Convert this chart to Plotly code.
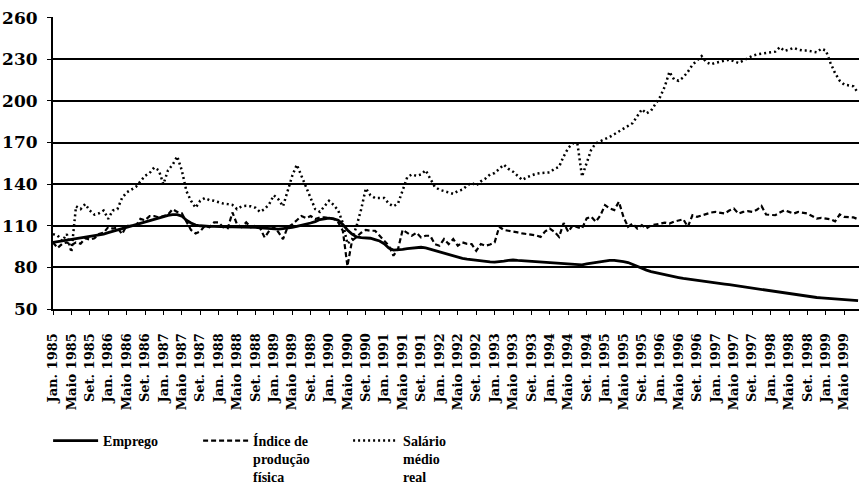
import plotly.graph_objects as go

# Monthly series, Jan. 1985 .. Aug. 1999
emprego = [
    98, 98.5, 99.5, 100, 100.3, 100.6, 101, 101.5, 102, 102.5,
    103, 104, 105, 106, 107, 108, 109, 110, 111, 112,
    113, 114, 115, 116, 117, 117.5, 118, 118, 117, 114,
    112, 110.5, 110, 109.5, 109.5, 109.5, 109.3, 109.3, 109.3, 109.3,
    109.3, 109, 109, 109, 108.8, 108.5, 108.2, 108, 107.6, 107.6,
    108, 108.3, 108.8, 109.5, 110.2, 111, 112, 113, 114.5, 115,
    115.5, 115, 114, 111, 107, 104, 102, 101.5, 101.5, 101,
    100, 99, 97, 94, 92.5, 92.5, 93, 93.5, 94, 94.5,
    94.5, 94, 93, 92, 91, 90, 89, 88, 87, 86.5,
    86, 85.5, 85, 84.5, 84.3, 84, 83.8, 84, 84.5, 85,
    85.3, 85, 84.8, 84.5, 84.2, 84, 84, 83.8, 83.5, 83.5,
    83.3, 83, 82.8, 82.3, 82, 81.8, 82.5, 83, 83.8, 84.4,
    84.8, 85, 85, 84.8, 84.2, 83.5, 82, 80.5, 79, 78,
    77, 76.2, 75.5, 74.7, 74, 73.3, 72.7, 72, 71.5, 71,
    70.5, 70.2, 69.8, 69.3, 69, 68.5, 68, 67.5, 67, 66.5,
    66, 65.5, 65, 64.5, 64, 63.5, 63, 62.5, 62, 61.5,
    61, 60.5, 60, 59.5, 59, 58.7, 58.3, 58, 57.7, 57.3,
    57, 56.8, 56.6, 56.4, 56.2, 56,
]

producao = [
    98, 94, 97, 98, 96, 98, 97, 101, 100, 101,
    104, 105, 109, 108, 108.6, 104, 110, 110, 110, 115,
    114, 117, 117, 116, 117, 118, 122, 120, 119, 112.4,
    107, 104.5, 106, 110, 109, 112.4, 112.4, 109, 108.3, 119.6,
    111, 109, 112.4, 109, 110, 108.5, 101.6, 106.4, 109, 105.4,
    100.4, 109, 111, 114, 117, 115.5, 117, 114.8, 116, 116,
    115.5, 115, 112.4, 106.4, 81, 99.2, 102, 105, 107, 106.4,
    106.4, 102.8, 99.2, 95.6, 88.4, 93.2, 107, 105, 102.8, 105,
    101.6, 102.8, 102.8, 96.8, 95.6, 100.4, 96.8, 100.4, 95.6, 98,
    97, 96.8, 92, 96.8, 95.6, 96.5, 98, 109.3, 107, 106.4,
    106, 105.2, 104.5, 104, 103.6, 103, 102, 106, 108, 105.6,
    102, 112, 105.6, 110.4, 109, 108, 115.3, 116.5, 112.9, 117.6,
    124.9, 122.5, 121.3, 127.3, 116.4, 109.2, 111.6, 108, 110.4, 108,
    110.4, 110.8, 111.5, 112.3, 111.6, 113, 114, 114.7, 109.2, 117.6,
    116.4, 117.6, 118.5, 119.5, 120, 119.5, 118.8, 121, 122.4, 118.8,
    120, 120.5, 120, 121.5, 124.3, 118.1, 118, 117.6, 119.5, 121.2,
    120, 118.8, 120, 119.5, 118.8, 117, 115.2, 115.7, 115, 114.7,
    113.2, 118.1, 116.4, 116.4, 116, 114.7,
]

salario = [
    104, 103, 99, 104, 91, 124, 122, 125.6, 121, 118,
    119, 121, 115, 121, 122, 130, 134, 136, 138, 142,
    146, 148, 152, 150, 140, 150, 154, 160, 150, 135,
    128, 123, 128, 130, 128.5, 128, 127, 126, 125.6, 125,
    122, 124, 124.4, 124, 123, 120, 122, 125.6, 132, 129,
    124, 135, 146, 154, 146, 138, 130, 122, 120, 124,
    128, 125, 121, 112, 97, 100, 110, 122, 137, 132,
    130, 130, 130, 126, 124, 126, 136, 145, 147, 146,
    147, 150, 144, 138, 136, 135, 134, 133, 135, 136,
    139, 141, 139, 142, 144, 147, 148, 151, 154, 151,
    149, 146, 143, 145, 146.5, 147.5, 148, 148, 148.5, 151,
    152.5, 160, 166, 169.5, 169, 145.5, 155, 165, 169.5, 171,
    172, 174, 176, 178, 180, 182, 184, 189, 194, 191,
    193, 198, 203, 210.5, 221, 215.5, 214.5, 217, 221, 226,
    229, 232.3, 228, 226.4, 227.5, 228.5, 229, 229.8, 228.5, 227.4,
    229, 231, 232.5, 233.5, 234, 234.7, 234.7, 235.5, 238.8, 236,
    237, 238.3, 237, 236.3, 236.3, 235.5, 235, 237.6, 236.3, 227.4,
    220, 214.6, 211.7, 211.2, 210.5, 205.7,
]

tick_labels = [
    "Jan. 1985", "Maio 1985", "Set. 1985",
    "Jan. 1986", "Maio 1986", "Set. 1986",
    "Jan. 1987", "Maio 1987", "Set. 1987",
    "Jan. 1988", "Maio 1988", "Set. 1988",
    "Jan. 1989", "Maio 1989", "Set. 1989",
    "Jan. 1990", "Maio 1990", "Set. 1990",
    "Jan. 1991", "Maio 1991", "Set. 1991",
    "Jan. 1992", "Maio 1992", "Set. 1992",
    "Jan. 1993", "Maio 1993", "Set. 1993",
    "Jan. 1994", "Maio 1994", "Set. 1994",
    "Jan. 1995", "Maio 1995", "Set. 1995",
    "Jan. 1996", "Maio 1996", "Set. 1996",
    "Jan. 1997", "Maio 1997", "Set. 1997",
    "Jan. 1998", "Maio 1998", "Set. 1998",
    "Jan. 1999", "Maio 1999",
]

series_names = ["Emprego", "Índice de<br>produção<br>física", "Salário<br>médio<br>real"]

n = min(len(emprego), len(producao), len(salario))
months = list(range(n))
tick_vals = [4 * i for i in range(len(tick_labels))]

SERIF_B = "DejaVu Serif"
fig = go.Figure()
fig.add_trace(go.Scatter(x=months, y=emprego[:n], mode="lines", name=series_names[0],
                         line=dict(color="black", width=2.8)))
fig.add_trace(go.Scatter(x=months, y=producao[:n], mode="lines", name=series_names[1],
                         line=dict(color="black", width=2.2, dash="5px,3px")))
fig.add_trace(go.Scatter(x=months, y=salario[:n], mode="lines", name=series_names[2],
                         line=dict(color="black", width=2.5, dash="2px,3px")))

fig.update_layout(
    width=859, height=484,
    margin=dict(l=53, r=0, t=17, b=175),
    paper_bgcolor="white", plot_bgcolor="white",
    font=dict(family=SERIF_B, color="black"),
    showlegend=True,
    legend=dict(
        orientation="h", xref="container", x=0.056, xanchor="left",
        yref="container", y=0.122, yanchor="top",
        font=dict(family="Liberation Serif", size=14, color="black", weight="bold"),
        entrywidth=90, entrywidthmode="pixels", valign="top",
        itemwidth=45, tracegroupgap=0, bgcolor="rgba(0,0,0,0)",
    ),
    xaxis=dict(
        range=[0, 175.2], tickmode="array", tickvals=tick_vals, ticktext=tick_labels,
        tickangle=-90, tickfont=dict(family=SERIF_B, size=13, color="black", weight="bold"),
        ticks="outside", ticklen=4, tickcolor="black", ticklabelstandoff=13,
        showline=True, linecolor="black", linewidth=2, showgrid=False, zeroline=False,
        automargin=False,
    ),
    yaxis=dict(
        range=[50, 260.5], tickmode="linear", tick0=50, dtick=30,
        tickfont=dict(family=SERIF_B, size=17, color="black", weight="bold"),
        ticks="outside", ticklen=4, tickcolor="black", ticklabelstandoff=6,
        showline=True, linecolor="black", linewidth=2,
        showgrid=True, gridcolor="black", gridwidth=1.5, zeroline=False,
        automargin=False,
    ),
)

fig.write_html(
    "out.html",
    config={"displayModeBar": False},
    post_script="document.body.style.margin='0';document.body.style.padding='0';",
)
